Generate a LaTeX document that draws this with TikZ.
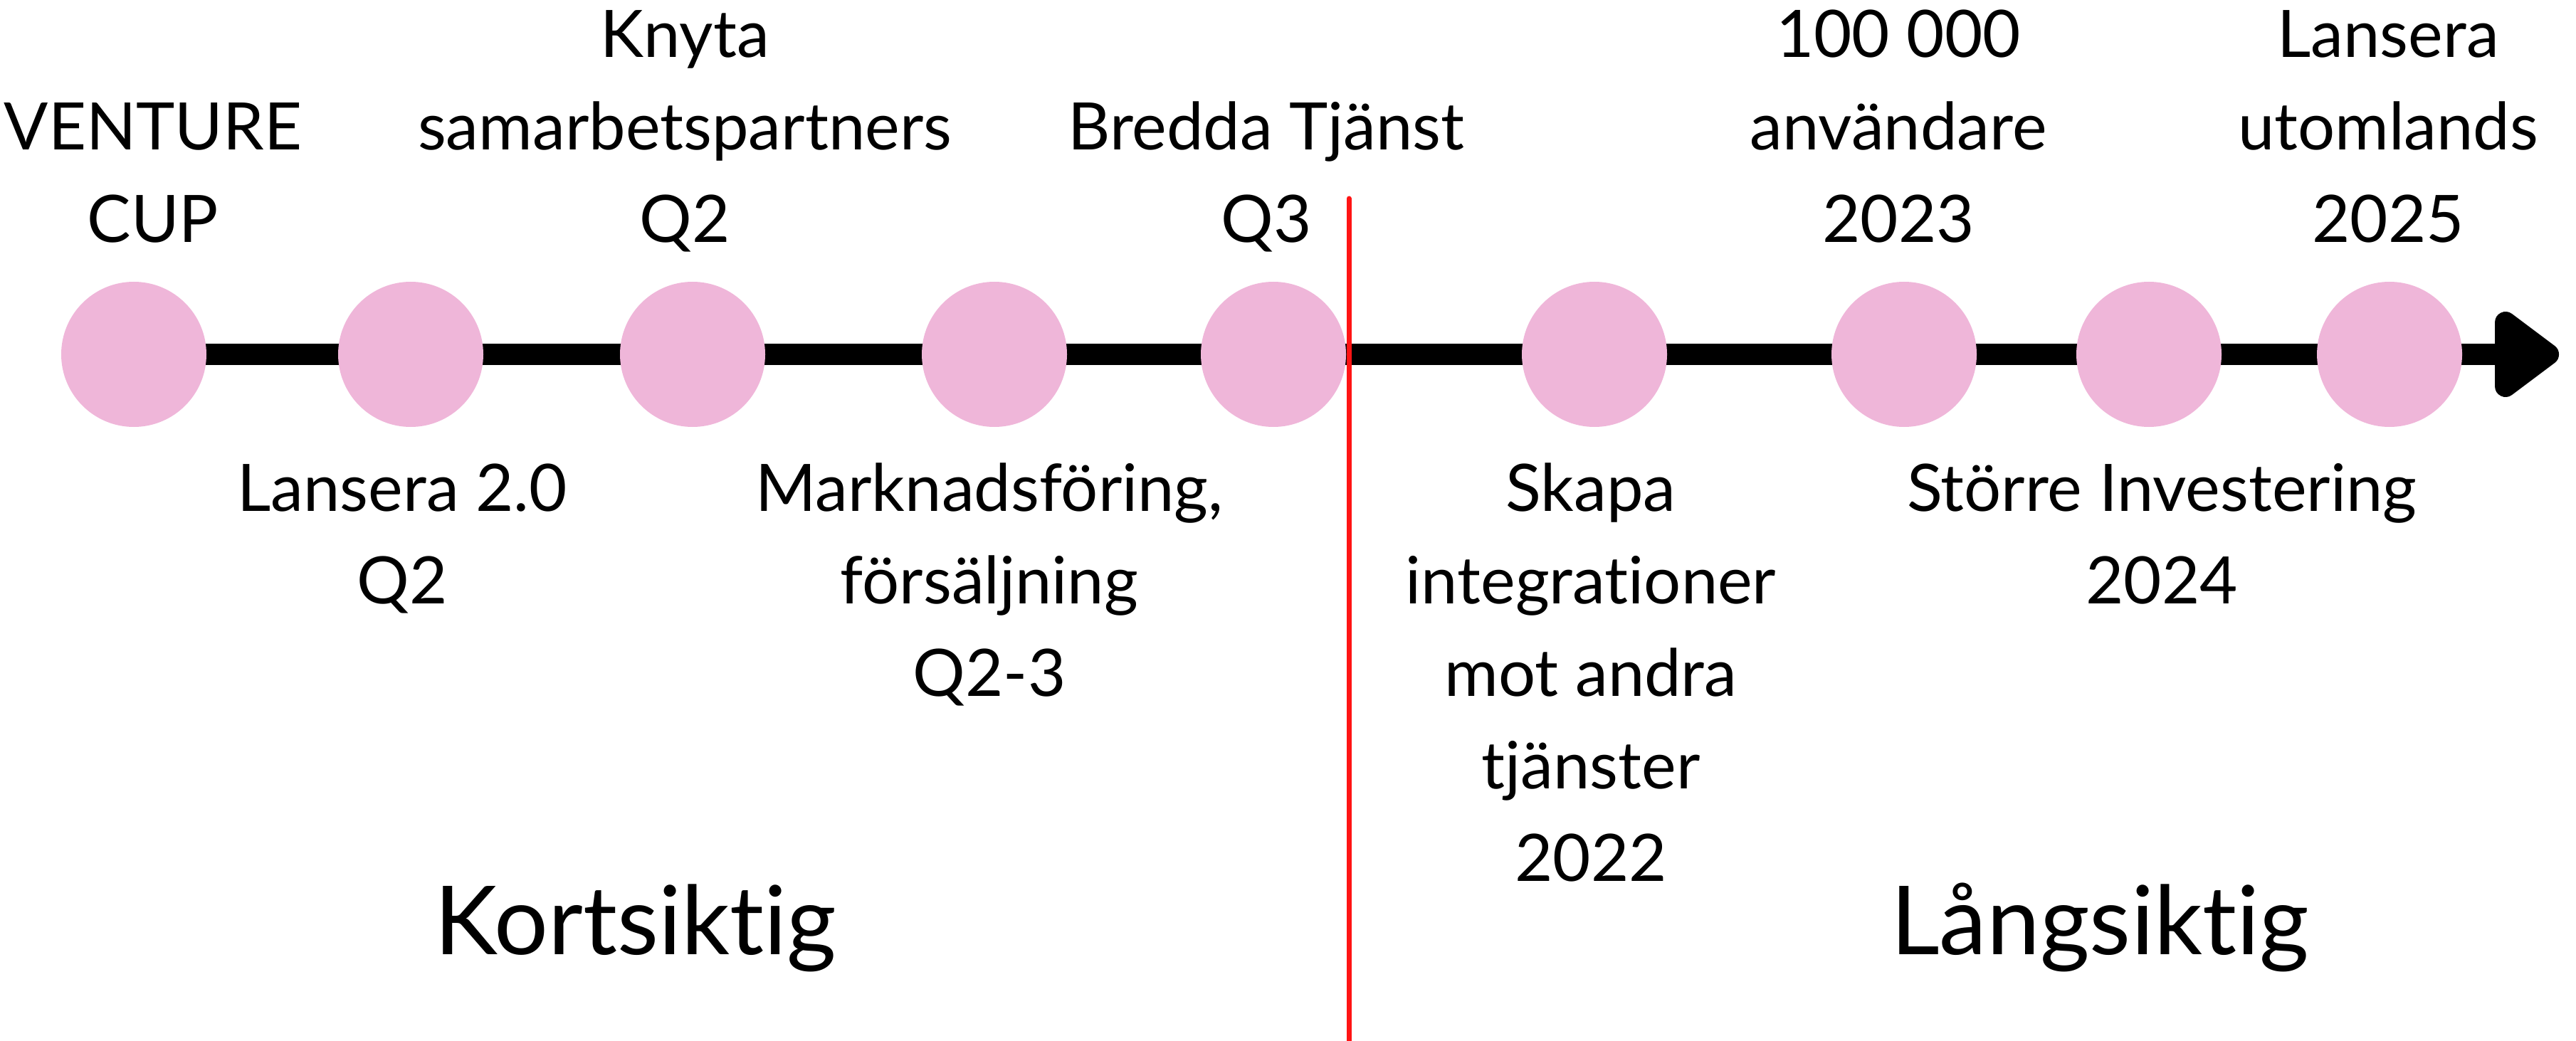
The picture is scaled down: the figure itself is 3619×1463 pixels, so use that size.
\documentclass[tikz,border=0pt]{standalone}
\usepackage{fontspec}
\setmainfont{Lato}[Ligatures=NoCommon]
\usetikzlibrary{positioning}
\tikzset{every picture/.style={line width=0.75pt}}
\definecolor{milestonepink}{RGB}{239,182,217}
\definecolor{dividerred}{RGB}{255,20,20}

\begin{document}
\begin{tikzpicture}[x=0.2pt,y=0.2pt,yscale=-1,xscale=1,
    milestone/.style={circle, fill=milestonepink, minimum size=40.8pt, inner sep=0pt},
    lbl/.style={font=\fontsize{18.4}{26}\selectfont, align=center, inner sep=0pt, anchor=base},
    period/.style={font=\fontsize{26.8}{30}\selectfont, inner sep=0pt, anchor=base}]
    \useasboundingbox (0,0) rectangle (3619,1463);

    %Shape: Circles [milestones]
    \path (188,498) coordinate (c1) (577,498) coordinate (c2) (973,498) coordinate (c3)
          (1397,498) coordinate (c4) (1789,498) coordinate (c5) (2240,498) coordinate (c6)
          (2675,498) coordinate (c7) (3019,498) coordinate (c8) (3357,498) coordinate (c9);
    \coordinate (tip) at (3520,498);
    %Straight Lines [timeline]
    \draw [line width=5.9pt] (c1) -- (tip) ;
    %Shape: Triangle [arrow head]
    \filldraw [line width=6pt, line join=round] (3520,453) -- (3580,498) -- (3520,543) -- cycle ;

    \node [milestone] (m1) at (c1) {};
    \node [milestone] (m2) at (c2) {};
    \node [milestone] (m3) at (c3) {};
    \node [milestone] (m4) at (c4) {};
    \node [milestone] (m5) at (c5) {};
    \node [milestone] (m6) at (c6) {};
    \node [milestone] (m7) at (c7) {};
    \node [milestone] (m8) at (c8) {};
    \node [milestone] (m9) at (c9) {};

    %Straight Lines [divider]
    \draw [color=dividerred, line width=1.4pt, line cap=round] (1895,279) -- (1895,1475) ;

    % Text Node
    \node [lbl] (tVenture) at (215,341) {VENTURE\\CUP};
    % Text Node
    \node [lbl] (tKnyta) at (962,341) {Knyta\\samarbetspartners\\Q2};
    % Text Node
    \node [lbl] (tBredda) at (1779,341) {Bredda Tjänst\\Q3};
    % Text Node
    \node [lbl] (tAnvandare) at (2667,341) {100 000\\användare\\2023};
    % Text Node
    \node [lbl] (tUtomlands) at (3355,341) {Lansera\\utomlands\\2025};
    % Text Node
    \node [lbl] (tLansera) at (565,848) {Lansera 2.0\\Q2};
    % Text Node
    \node [lbl] (tMarknad) at (1390,978) {Marknadsföring,\\försäljning\\Q2-3};
    % Text Node
    \node [lbl] (tSkapa) at (2235,1238) {Skapa\\integrationer\\mot andra\\tjänster\\2022};
    % Text Node
    \node [lbl] (tInvest) at (3037,848) {Större Investering\\2024};
    % Text Node
    \node [period] (tKort) at (893,1341) {Kortsiktig};
    % Text Node
    \node [period] (tLang) at (2950,1341) {Långsiktig};
\end{tikzpicture}
\end{document}
